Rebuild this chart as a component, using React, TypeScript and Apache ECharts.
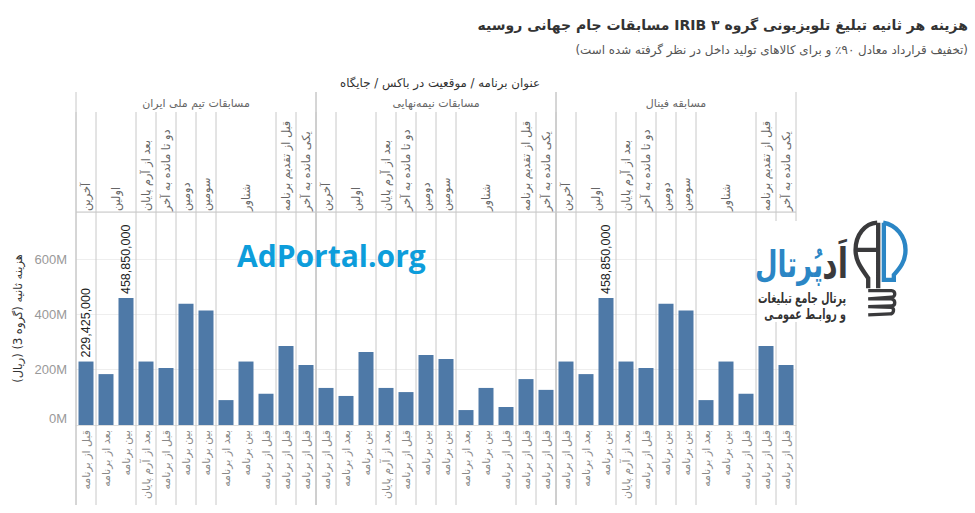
import { useEffect, useRef } from 'react';
import * as echarts from 'echarts';

const groupNames = ['مسابقات تیم ملی ایران', 'مسابقات نیمه‌نهایی', 'مسابقه فینال'];
const positionNames = ['آخرین', 'اولین', 'بعد از آرم پایان', 'دو تا مانده به آخر', 'دومین', 'سومین', 'شناور', 'قبل از تقدیم برنامه', 'یکی مانده به آخر'];
const positionSpans = [1, 2, 1, 1, 1, 1, 3, 1, 1];
const slotNames = ['قبل از برنامه', 'بعد از برنامه', 'بین برنامه', 'بعد از آرم پایان', 'قبل از برنامه', 'بین برنامه', 'بین برنامه', 'بعد از برنامه', 'بین برنامه', 'قبل از برنامه', 'قبل از برنامه', 'قبل از برنامه'];

const iranValues = [229425000, 184000000, 458850000, 229425000, 206000000, 438000000, 414000000, 90000000, 229425000, 113000000, 286000000, 217000000];
const semiValues = [134000000, 105000000, 264000000, 134000000, 119000000, 253000000, 239000000, 54000000, 134000000, 65000000, 166000000, 127000000];
const finalValues = [229425000, 184000000, 458850000, 229425000, 206000000, 438000000, 414000000, 90000000, 229425000, 113000000, 286000000, 217000000];
const labeledBars = [0, 2, 26];

const title = '\u202Bهزینه هر ثانیه تبلیغ تلویزیونی گروه ۳ IRIB مسابقات جام جهانی روسیه\u202C';
const subtitle = '\u202B(تخفیف قرارداد معادل ۹۰٪ و برای کالاهای تولید داخل در نظر گرفته شده است)\u202C';
const headerTitle = '\u202Bعنوان برنامه / موقعیت در باکس / جایگاه\u202C';
const yTitle = '\u202Bهزینه ثانیه (گروه 3) (ریال)\u202C';

const FA = '"DejaVu Sans", sans-serif';
const LINE = '#c8c8c8';

const categories = [...slotNames, ...slotNames, ...slotNames];
const values = [...iranValues, ...semiValues, ...finalValues];

// header rows: one per group, then one per position cell
const headerRows: { start: number; span: number; label: string; level: number }[] = [];
groupNames.forEach((name, g) => {
  headerRows.push({ start: g * 12, span: 12, label: name, level: 0 });
  let at = g * 12;
  positionNames.forEach((p, i) => {
    headerRows.push({ start: at, span: positionSpans[i], label: p, level: 1 });
    at += positionSpans[i];
  });
});

const bulbDark = 'M412 68 C375 70 347 105 347 150 C347 185 365 205 385 235 L385 265 M347 150 L412 150 M415 68 L415 265';
const bulbBlue = 'M430 68 C470 75 497 110 497 150 C497 185 480 205 462 225 L462 240 L432 240 L432 68';
const coil = 'M385 272 L455 272 C468 272 468 292 455 292 L385 297 L455 297 C468 300 468 318 455 318 L385 320 L455 322 C465 326 462 342 450 342 L385 345';
echarts.graphic.registerShape('bulbDark', echarts.graphic.extendPath(bulbDark, {}));
echarts.graphic.registerShape('bulbBlue', echarts.graphic.extendPath(bulbBlue, {}));
echarts.graphic.registerShape('bulbCoil', echarts.graphic.extendPath(coil, {}));

const App = () => {
  const chartRef = useRef<HTMLDivElement>(null);

  useEffect(() => {
    if (!chartRef.current) return;
    const myChart = echarts.init(chartRef.current, null, { renderer: 'svg' });

    const renderHeader = (params: any, api: any) => {
      const row = headerRows[params.dataIndex];
      const box = params.coordSys;
      const band = api.size([1, 0])[0];
      const left = api.coord([row.start, 0])[0] - band / 2;
      const width = band * row.span;
      const bottom = 505;
      const lineStyle = { stroke: LINE, lineWidth: 1 };
      const children: any[] = [];
      if (row.level === 0) {
        children.push({ type: 'line', shape: { x1: left, y1: 92, x2: left, y2: bottom }, style: lineStyle });
        children.push({ type: 'line', shape: { x1: left + width, y1: 92, x2: left + width, y2: bottom }, style: lineStyle });
        children.push({ type: 'line', shape: { x1: left, y1: box.y, x2: left + width, y2: box.y }, style: lineStyle });
        children.push({
          type: 'text', x: left + width / 2, y: 103,
          style: { text: row.label, textAlign: 'center', textVerticalAlign: 'middle', fontFamily: FA, fontSize: 11, fill: '#666' },
        });
      } else {
        children.push({ type: 'line', shape: { x1: left, y1: 112, x2: left, y2: bottom }, style: lineStyle });
        children.push({
          type: 'text', x: left + width / 2, y: box.y - 1, rotation: Math.PI / 2,
          style: { text: row.label, textAlign: 'left', textVerticalAlign: 'middle', fontFamily: FA, fontSize: 11.3, fill: '#666' },
        });
      }
      return { type: 'group', children };
    };

    const option = {
      animation: false,
      backgroundColor: '#fff',
      title: [
        { text: title, right: 2, top: 13, textStyle: { fontFamily: FA, fontSize: 14, fontWeight: 'bold', color: '#333' } },
        { text: subtitle, right: 2, top: 39, textStyle: { fontFamily: FA, fontSize: 11.9, fontWeight: 'normal', color: '#555' } },
        { text: headerTitle, left: 435, textAlign: 'center', top: 72, textStyle: { fontFamily: FA, fontSize: 11.8, fontWeight: 'normal', color: '#333' } },
      ],
      grid: { left: 76, right: 179, top: 212, bottom: 88 },
      xAxis: {
        type: 'category',
        data: categories,
        axisTick: { show: false },
        axisLine: { lineStyle: { color: '#ddd' } },
        axisLabel: { interval: 0, rotate: 90, margin: 5, fontFamily: FA, fontSize: 11, color: '#888' },
      },
      yAxis: {
        type: 'value',
        min: 0,
        max: 770000000,
        interval: 200000000,
        name: yTitle,
        nameLocation: 'middle',
        nameRotate: 90,
        nameGap: 49,
        nameTextStyle: { fontFamily: FA, fontSize: 11.5, color: '#333' },
        axisLine: { show: false },
        axisTick: { show: false },
        splitLine: { lineStyle: { color: '#eee' } },
        axisLabel: {
          margin: 9,
          fontFamily: '"Liberation Sans", sans-serif',
          fontSize: 13,
          color: '#999',
          verticalAlignMinLabel: 'bottom',
          formatter: (v: number) => (v % 200000000 === 0 ? `${v / 1000000}M` : ''),
        },
      },
      series: [
        {
          type: 'bar',
          barWidth: 15,
          itemStyle: { color: '#4e79a7' },
          data: values.map((v, i) => ({
            value: v,
            label: {
              show: labeledBars.includes(i),
              position: 'top',
              rotate: 90,
              align: 'left',
              verticalAlign: 'middle',
              distance: 4,
              fontFamily: '"Liberation Sans", sans-serif',
              fontSize: 12.5,
              color: '#222',
              formatter: (p: any) => Number(p.value).toLocaleString('en-US'),
            },
          })),
        },
        {
          type: 'custom',
          silent: true,
          clip: false,
          renderItem: renderHeader,
          encode: { x: 0, y: 1 },
          data: headerRows.map((r) => [r.start, 0]),
        },
      ],
      graphic: [
        { type: 'rect', z: 100, silent: true, shape: { x: 757, y: 221, width: 218, height: 101 }, style: { fill: '#fff' } },
        { type: 'text', z: 101, x: 237, y: 255, silent: true, style: { text: 'AdPortal.org', textVerticalAlign: 'middle', fontFamily: '"Open Sans", sans-serif', fontWeight: 'bold', fontSize: 30, fill: '#0d9ddb' } },
        { type: 'bulbDark', z: 101, x: 740, y: 200, scaleX: 1 / 3, scaleY: 1 / 3, silent: true, style: { fill: 'none', stroke: '#3a3a3c', lineWidth: 13 } },
        { type: 'bulbBlue', z: 101, x: 740, y: 200, scaleX: 1 / 3, scaleY: 1 / 3, silent: true, style: { fill: 'none', stroke: '#2b86c5', lineWidth: 13 } },
        { type: 'bulbCoil', z: 101, x: 740, y: 200, scaleX: 1 / 3, scaleY: 1 / 3, silent: true, style: { fill: 'none', stroke: '#3a3a3c', lineWidth: 10 } },
        { type: 'text', z: 101, x: 848, y: 264, scaleY: 1.4, silent: true, style: { text: 'اَد', textAlign: 'right', textVerticalAlign: 'middle', fontFamily: FA, fontWeight: 'bold', fontSize: 30, fill: '#3a3a3c' } },
        { type: 'text', z: 101, x: 823, y: 264, scaleY: 1.4, silent: true, style: { text: 'پُرتال', textAlign: 'right', textVerticalAlign: 'middle', fontFamily: FA, fontWeight: 'bold', fontSize: 26, fill: '#2b86c5' } },
        { type: 'text', z: 101, x: 846, y: 298, scaleY: 1.5, silent: true, style: { text: 'پرتال جامع تبلیغات', textAlign: 'right', textVerticalAlign: 'middle', fontFamily: FA, fontWeight: 'bold', fontSize: 9.5, fill: '#333' } },
        { type: 'text', z: 101, x: 846, y: 314, scaleY: 1.5, silent: true, style: { text: 'و روابـط عمومـی', textAlign: 'right', textVerticalAlign: 'middle', fontFamily: FA, fontWeight: 'bold', fontSize: 9.5, fill: '#333' } },
      ],
    };

    myChart.setOption(option as any);

    return () => {
      myChart.dispose();
    };
  }, []);

  return <div ref={chartRef} style={{ position: 'absolute', left: 0, top: 0, width: 975, height: 513 }} />;
};

export default App;
